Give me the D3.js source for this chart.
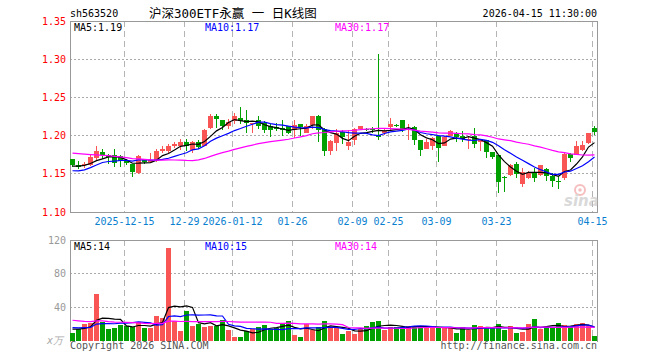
<!DOCTYPE html>
<html>
<head>
<meta charset="utf-8">
<script src="https://cdn.jsdelivr.net/npm/d3@7/dist/d3.min.js"></script>
<style>
    body { margin: 0; background: #fff; }
    text { font-family: "DejaVu Sans Mono", monospace; font-size: 10px; }
</style>
</head>
<body>
<svg id="chart" width="660" height="360"></svg>
<script>
// trading days shown (88)
const dates = [
    "2025-12-02","2025-12-03","2025-12-04","2025-12-05",
    "2025-12-08","2025-12-09","2025-12-10","2025-12-11","2025-12-12",
    "2025-12-15","2025-12-16","2025-12-17","2025-12-18","2025-12-19",
    "2025-12-22","2025-12-23","2025-12-24","2025-12-25","2025-12-26",
    "2025-12-29","2025-12-30","2025-12-31",
    "2026-01-05","2026-01-06","2026-01-07","2026-01-08","2026-01-09",
    "2026-01-12","2026-01-13","2026-01-14","2026-01-15","2026-01-16",
    "2026-01-19","2026-01-20","2026-01-21","2026-01-22","2026-01-23",
    "2026-01-26","2026-01-27","2026-01-28","2026-01-29","2026-01-30",
    "2026-02-02","2026-02-03","2026-02-04","2026-02-05","2026-02-06",
    "2026-02-09","2026-02-10","2026-02-11","2026-02-12","2026-02-13",
    "2026-02-24","2026-02-25","2026-02-26","2026-02-27",
    "2026-03-02","2026-03-03","2026-03-04","2026-03-05","2026-03-06",
    "2026-03-09","2026-03-10","2026-03-11","2026-03-12","2026-03-13",
    "2026-03-16","2026-03-17","2026-03-18","2026-03-19","2026-03-20",
    "2026-03-23","2026-03-24","2026-03-25","2026-03-26","2026-03-27",
    "2026-03-30","2026-03-31","2026-04-01","2026-04-02","2026-04-03",
    "2026-04-07","2026-04-08","2026-04-09","2026-04-10",
    "2026-04-13","2026-04-14","2026-04-15"
];

const open = [
    1.169,1.162,1.161,1.162,1.171,1.178,1.174,1.174,1.173,1.167,
    1.163,1.151,1.169,1.166,1.167,1.180,1.180,1.187,1.186,1.191,
    1.181,1.191,1.187,1.210,1.226,1.221,1.213,1.219,1.223,1.220,
    1.215,1.220,1.217,1.212,1.211,1.210,1.212,1.207,1.215,1.204,
    1.214,1.226,1.208,1.180,1.190,1.205,1.187,1.194,1.209,1.209,
    1.208,1.201,1.203,1.211,1.214,1.221,1.207,1.211,1.194,1.183,
    1.187,1.199,1.187,1.200,1.204,1.199,1.194,1.199,1.191,1.194,
    1.178,1.174,1.146,1.148,1.163,1.136,1.144,1.151,1.148,1.156,
    1.147,1.141,1.144,1.176,1.174,1.181,1.190,1.210
];
const high = [
    1.169,1.167,1.165,1.174,1.186,1.182,1.176,1.183,1.174,1.170,
    1.163,1.175,1.170,1.177,1.183,1.186,1.189,1.191,1.196,1.196,
    1.193,1.194,1.208,1.228,1.228,1.221,1.222,1.229,1.238,1.234,
    1.217,1.226,1.219,1.215,1.216,1.220,1.213,1.221,1.215,1.215,
    1.226,1.227,1.210,1.194,1.209,1.207,1.207,1.210,1.213,1.210,
    1.211,1.307,1.210,1.223,1.215,1.221,1.215,1.213,1.194,1.195,
    1.198,1.199,1.199,1.207,1.205,1.206,1.199,1.210,1.196,1.194,
    1.179,1.174,1.147,1.163,1.166,1.157,1.154,1.157,1.162,1.157,
    1.151,1.146,1.178,1.177,1.193,1.193,1.204,1.213
];
const low = [
    1.159,1.156,1.157,1.160,1.167,1.170,1.163,1.159,1.159,1.162,
    1.146,1.150,1.163,1.165,1.166,1.177,1.177,1.184,1.181,1.180,
    1.177,1.183,1.186,1.209,1.210,1.207,1.208,1.215,1.215,1.204,
    1.203,1.209,1.204,1.198,1.206,1.200,1.202,1.197,1.200,1.203,
    1.209,1.192,1.173,1.174,1.180,1.189,1.181,1.188,1.209,1.206,
    1.204,1.194,1.201,1.207,1.211,1.205,1.194,1.188,1.173,1.182,
    1.181,1.165,1.186,1.199,1.191,1.191,1.183,1.184,1.180,1.171,
    1.170,1.125,1.126,1.147,1.145,1.133,1.143,1.139,1.147,1.141,
    1.133,1.130,1.142,1.165,1.174,1.180,1.189,1.201
];
const close = [
    1.162,1.159,1.163,1.172,1.180,1.174,1.172,1.164,1.167,1.164,
    1.152,1.173,1.166,1.168,1.180,1.182,1.187,1.189,1.192,1.186,
    1.191,1.185,1.207,1.226,1.222,1.213,1.218,1.226,1.219,1.216,
    1.216,1.213,1.207,1.207,1.209,1.207,1.204,1.214,1.211,1.213,
    1.226,1.207,1.180,1.193,1.204,1.198,1.192,1.209,1.212,1.208,
    1.207,1.198,1.206,1.215,1.213,1.209,1.209,1.194,1.181,1.192,
    1.197,1.184,1.198,1.206,1.198,1.195,1.196,1.189,1.196,1.178,
    1.172,1.139,1.145,1.161,1.150,1.152,1.151,1.145,1.161,1.147,
    1.141,1.140,1.176,1.171,1.186,1.188,1.204,1.205
];
// volume, x万
const volume = [
    10.0,14.8,20.3,21.5,56.2,22.7,14.0,15.5,19.6,17.6,
    16.7,22.7,15.5,15.5,29.9,26.8,111,23.5,11.6,35.5,
    18.0,20.3,16.7,18.0,17.6,24.7,12.8,4.8,4.8,11.6,
    14.0,16.7,19.6,14.0,15.5,21.1,23.9,6.8,4.8,20.0,
    12.8,16.7,23.9,16.0,16.0,8.4,11.6,8.4,14.8,18.0,
    22.7,23.9,12.8,16.4,16.4,17.2,17.6,17.6,17.2,16.4,
    15.5,15.5,15.5,15.5,9.6,16.4,12.8,18.8,17.6,15.5,
    15.5,20.0,12.8,17.6,9.6,10.4,20.0,25.9,14.0,15.5,
    16.4,21.1,18.8,17.2,20.0,21.1,17.6,5.6
];

// sessions before the window (only feed the moving averages at the left edge)
const prevClose = [
    1.180,1.184,1.188,1.192,1.190,1.186,1.189,1.193,1.191,1.187,
    1.184,1.188,1.190,1.186,1.183,1.181,1.190,1.196,1.199,1.195,
    1.160,1.150,1.143,1.145,1.142,1.159,1.158,1.160,1.161
];
const prevVolume = [
    35,42,28,31,25,38,30,27,22,26,
    33,29,24,21,28,32,26,23,30,30,
    20,16,19,17,18,14,16,13,17
];

const tickDates = ["2025-12-15","2025-12-29","2026-01-12","2026-01-26","2026-02-09",
                   "2026-02-25","2026-03-09","2026-03-23","2026-04-15"];
const tickLabels = ["2025-12-15","12-29","2026-01-12","01-26","02-09",
                    "02-25","03-09","03-23","04-15"];
const priceTicks = [1.10, 1.15, 1.20, 1.25, 1.30, 1.35];
const volTicks = [40, 80, 120];

const maPeriods = [5, 10, 30];
const maColors = ["#000", "#0000ff", "#ff00ff"];
const priceMaText = ["1.19", "1.17", "1.17"];
const volMaText = ["14", "15", "14"];

const RED = "#fa5555", GREEN = "#00a000";

const svg = d3.select("#chart");
const left = 70, right = 597.5;

const x = d3.scaleLinear().domain([0, dates.length]).range([70, 598]);
const y = d3.scaleLinear().domain([1.10, 1.35]).range([212, 21]);
const vy = d3.scaleLinear().domain([0, 120]).range([341, 240]);
const cx = i => x(i) + 2.5;

function movingAvg(prev, vals, n) {
    const all = prev.concat(vals);
    return vals.map((v, i) => {
        const k = prev.length + i;
        return d3.mean(all.slice(k - n + 1, k + 1));
    });
}

// ---- header
svg.append("text").attr("x", 70).attr("y", 17).text("sh563520");
svg.append("text").attr("x", 149).attr("y", 18)
    .style("font-family", "'DejaVu Sans Mono','Noto Sans CJK SC',monospace")
    .style("font-size", "12.5px")
    .text("沪深300ETF永赢 一 日K线图");
svg.append("text").attr("x", 597).attr("y", 17).attr("text-anchor", "end")
    .text("2026-04-15 11:30:00");

// ---- grids
const grid = svg.append("g").attr("shape-rendering", "crispEdges");

grid.selectAll(".hp")
    .data(priceTicks.filter(d => d > 1.10 && d < 1.35))
    .enter().append("line")
    .attr("x1", left).attr("x2", right)
    .attr("y1", d => y(d)).attr("y2", d => y(d))
    .attr("stroke", "#aaa").attr("stroke-dasharray", "2,2");

grid.selectAll(".hv")
    .data(volTicks.filter(d => d < 120))
    .enter().append("line")
    .attr("x1", left).attr("x2", right)
    .attr("y1", d => vy(d)).attr("y2", d => vy(d))
    .attr("stroke", "#aaa").attr("stroke-dasharray", "2,2");

const tickIdx = tickDates.map(d => dates.indexOf(d));
[[y(1.35), y(1.10)], [vy(120), vy(0)]].forEach(([t, b]) => {
    grid.selectAll(null)
        .data(tickIdx)
        .enter().append("line")
        .attr("x1", d => x(d) + 0.5).attr("x2", d => x(d) + 0.5)
        .attr("y1", t).attr("y2", b)
        .attr("stroke", "#b4b4b4")
        .attr("stroke-width", 1)
        .attr("stroke-dasharray", "6,4");
});

// borders
const border = svg.append("g").attr("stroke", "#999").attr("shape-rendering", "crispEdges");
border.append("rect")
    .attr("x", left).attr("y", y(1.35))
    .attr("width", right - left).attr("height", y(1.10) - y(1.35))
    .attr("fill", "none");
border.append("line").attr("x1", left).attr("x2", right).attr("y1", vy(120)).attr("y2", vy(120));
border.append("line").attr("x1", left).attr("x2", left).attr("y1", vy(120)).attr("y2", vy(0) + 1);
border.append("line").attr("x1", right).attr("x2", right).attr("y1", vy(120)).attr("y2", vy(0) + 1);

// ---- axis labels
svg.append("g").selectAll("text")
    .data(priceTicks)
    .enter().append("text")
    .attr("x", 66).attr("y", d => y(d)).attr("dy", "0.35em")
    .attr("text-anchor", "end").attr("fill", "#f00")
    .text(d => d.toFixed(2));

svg.append("g").selectAll("text")
    .data(volTicks)
    .enter().append("text")
    .attr("x", 66).attr("y", d => vy(d)).attr("dy", "0.35em")
    .attr("text-anchor", "end").attr("fill", "#999")
    .text(d => d);
svg.append("text").attr("x", 63).attr("y", 344).attr("text-anchor", "end")
    .attr("fill", "#aaa").style("font-style", "italic").text("x万");

svg.append("g").selectAll("text")
    .data(tickIdx)
    .enter().append("text")
    .attr("x", d => x(d) + 0.5).attr("y", 225)
    .attr("text-anchor", "middle").attr("fill", "#0a7fd0")
    .text((d, i) => tickLabels[i]);

// sina watermark
const wm = svg.append("g").attr("opacity", 0.55);
wm.append("circle").attr("cx", 580).attr("cy", 190).attr("r", 5)
    .attr("fill", "none").attr("stroke", "#f08c8c").attr("stroke-width", 2);
wm.append("circle").attr("cx", 580).attr("cy", 190).attr("r", 1.8).attr("fill", "#f08c8c");
wm.append("text").attr("x", 564).attr("y", 206)
    .style("font-family", "'DejaVu Sans',sans-serif")
    .style("font-size", "15px").style("font-weight", "bold").style("font-style", "italic")
    .attr("fill", "#bbb").text("sina");

// ---- candles
const candles = svg.append("g").attr("shape-rendering", "crispEdges")
    .selectAll("g")
    .data(dates)
    .enter().append("g")
    .attr("fill", (d, i) => close[i] >= open[i] ? RED : GREEN)
    .attr("stroke", (d, i) => close[i] >= open[i] ? RED : GREEN);

candles.append("line")
    .attr("x1", (d, i) => cx(i)).attr("x2", (d, i) => cx(i))
    .attr("y1", (d, i) => y(high[i])).attr("y2", (d, i) => y(low[i]));

candles.append("rect")
    .attr("stroke", "none")
    .attr("x", (d, i) => x(i))
    .attr("width", 5)
    .attr("y", (d, i) => y(Math.max(open[i], close[i])))
    .attr("height", (d, i) => Math.max(1, Math.abs(y(open[i]) - y(close[i]))));

// ---- volume bars
svg.append("g").attr("shape-rendering", "crispEdges")
    .selectAll("rect")
    .data(volume)
    .enter().append("rect")
    .attr("x", (d, i) => x(i))
    .attr("width", 5)
    .attr("y", d => vy(d))
    .attr("height", d => vy(0) - vy(d))
    .attr("fill", (d, i) => close[i] >= open[i] ? RED : GREEN);

// ---- moving averages
maPeriods.forEach((n, k) => {
    const pm = movingAvg(prevClose, close, n);
    const vm = movingAvg(prevVolume, volume, n);

    svg.append("path")
        .datum(pm)
        .attr("fill", "none")
        .attr("stroke", maColors[k])
        .attr("stroke-width", 1.2)
        .attr("d", d3.line().x((d, i) => cx(i)).y(d => y(d)));

    svg.append("path")
        .datum(vm)
        .attr("fill", "none")
        .attr("stroke", maColors[k])
        .attr("stroke-width", 1.2)
        .attr("d", d3.line().x((d, i) => cx(i)).y(d => vy(d)));

    const lx = [74, 205, 335][k];
    svg.append("text").attr("x", lx).attr("y", 31).attr("fill", maColors[k])
        .text(`MA${n}:${priceMaText[k]}`);
    svg.append("text").attr("x", lx).attr("y", 250).attr("fill", maColors[k])
        .text(`MA${n}:${volMaText[k]}`);
});

// ---- footer
svg.append("text").attr("x", 70).attr("y", 349).attr("fill", "#555")
    .text("Copyright 2026 SINA.COM");
svg.append("text").attr("x", 597).attr("y", 349).attr("text-anchor", "end").attr("fill", "#555")
    .text("http://finance.sina.com.cn");
</script>
</body>
</html>
